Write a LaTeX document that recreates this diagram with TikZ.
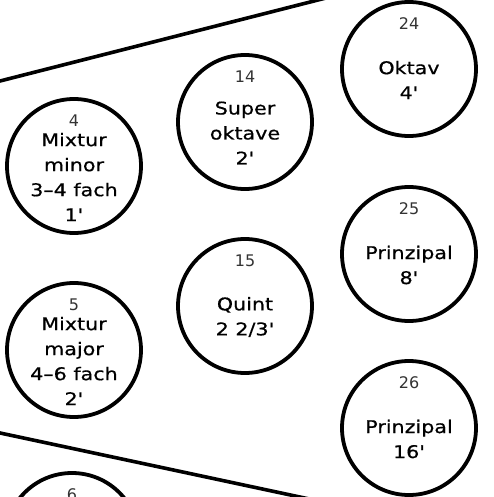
\documentclass[tikz,border=0pt]{standalone}
\usepackage{fontspec}
\newfontfamily\registerfont{DejaVu Sans}[FakeStretch=1.18, FakeBold=0.6, Ligatures=TeXOff]
\newfontfamily\nummerfont{DejaVu Sans}[Ligatures=TeXOff]
\usepackage{tikz}
\usetikzlibrary{calc}

\begin{document}
\begin{tikzpicture}[x=1pt, y=-1pt]
            \tikzset{
                pfeife/.style={
                    circle, draw=black, line width=3.8pt,
                    minimum size=134pt, inner sep=0pt
                },
                nummer/.style={
                    font=\nummerfont\fontsize{16}{18}\selectfont,
                    text=black!80, inner sep=0pt
                },
                registername/.style={
                    font=\registerfont\fontsize{17.5}{25}\selectfont,
                    align=center, inner sep=0pt
                },
                lade/.style={line width=3.6pt, line cap=round}
            }

            % --- Frame of the picture ---
            \useasboundingbox (0,0) rectangle (493,497);
            \clip (0,0) rectangle (493,497);

            % --- Chest borders (the two slanted lines) ---
            \coordinate (obenW) at (-20,86.1);
            \coordinate (obenO) at (340,-5.6);
            \coordinate (untenW) at (-20,428.7);
            \coordinate (untenO) at (320,501.3);
            \draw[lade] (obenW) -- (obenO);
            \draw[lade] (untenW) -- (untenO);

            % --- Stops: number / x / y / name ---
            \foreach \n/\x/\y/\txt in {
                    4/74/166/{Mixtur\\minor\\3–4 fach\\1'},
                    5/74/350/{Mixtur\\major\\4–6 fach\\2'},
                    6/72/540/{},
                    14/245/122/{Super\\oktave\\2'},
                    15/245/306/{Quint\\2 2/3'},
                    24/409/69/{Oktav\\4'},
                    25/409/254/{Prinzipal\\8'},
                    26/409/428/{Prinzipal\\16'}} {
                \node[pfeife] (p\n) at (\x,\y) {};
                \node[nummer] (n\n) at ([yshift=45pt]p\n.center) {\n};
                \node[registername] (t\n) at ([yshift=-11pt]p\n.center) {\txt};
            }
\end{tikzpicture}
\end{document}
